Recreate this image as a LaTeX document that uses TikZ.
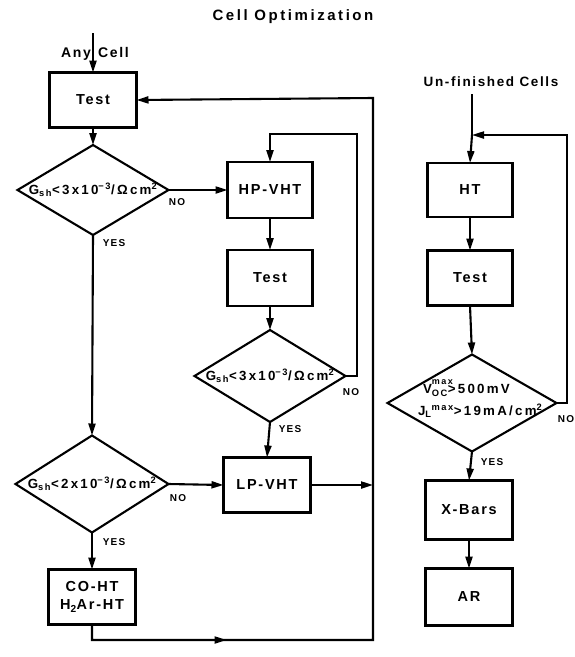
\documentclass[tikz,border=0pt]{standalone}
\usepackage{fontspec}
\setmainfont{Liberation Sans}[LetterSpace=12]
\newfontfamily\widefont{Liberation Sans}[LetterSpace=17]
\usetikzlibrary{arrows.meta,shapes.geometric,decorations.markings}
\begin{document}
\begin{tikzpicture}[x=1pt,y=-1pt,
  every node/.style={inner sep=0pt, outer sep=0pt},
  lw/.style={line width=2.1pt},
  box/.style={draw, lw, rectangle, minimum width=87pt, minimum height=55pt, font=\fontsize{14.5}{16}\selectfont\bfseries, align=center},
  dia/.style={draw, lw, diamond},
  dtext/.style={font=\widefont\fontsize{13.3}{15}\selectfont\bfseries, align=center},
  lbl/.style={font=\fontsize{10}{12}\selectfont\bfseries},
  ttl/.style={font=\fontsize{14}{16}\selectfont\bfseries},
  tip/.style={-{Triangle[length=12pt,width=7pt]}},
  conn/.style={lw, tip},
  plain/.style={lw}
]
\useasboundingbox (0,0) rectangle (575,657);

% title
\node[ttl, font=\widefont\fontsize{15}{17}\selectfont\bfseries] (title) at (293,17) {Cell Optimization};

% left column
\node[ttl, anchor=base east] (any) at (91,57) {Any};
\node[ttl, anchor=base west] (cell) at (98,57) {Cell};
\coordinate (start) at (93,33);

\node[box] (test1) at (93,100) {Test};
\node[dia, minimum width=151pt, minimum height=90pt] (d1) at (93,190) {};
\node[dtext] (d1t) at (d1.center) {G\textsubscript{sh}<3x10\textsuperscript{−3}/Ωcm\textsuperscript{2}};

\node[box, minimum width=85pt, minimum height=56pt] (hp) at (270,190) {HP-VHT};
\node[box, minimum width=85pt, minimum height=56pt] (test2) at (270,278) {Test};
\node[dia, minimum width=151pt, minimum height=92pt] (d2) at (270,376) {};
\node[dtext] (d2t) at (d2.center) {G\textsubscript{sh}<3x10\textsuperscript{−3}/Ωcm\textsuperscript{2}};

\node[dia, minimum width=153pt, minimum height=97pt] (d3) at (92,484) {};
\node[dtext] (d3t) at (d3.center) {G\textsubscript{sh}<2x10\textsuperscript{−3}/Ωcm\textsuperscript{2}};

\node[box] (lp) at (267,485) {LP-VHT};
\node[box] (co) at (92,597) {CO-HT\\[2pt]H\textsubscript{2}Ar-HT};

% loop coordinates
\coordinate (l2a) at (357,376);
\coordinate (l2b) at (357,134);
\coordinate (l2c) at (270,134);
\coordinate (lpend) at (373,485);
\coordinate (b1) at (92,640);
\coordinate (b2) at (373,640);
\coordinate (b3) at (373,98);

% connectors left
\draw[conn] (start) -- (test1.north);
\draw[conn] (test1.south) -- (d1.north);
\draw[conn] (d1.east) -- (hp.west);
\draw[conn] (d1.south) -- (d3.north);
\draw[conn] (hp.south) -- (test2.north);
\draw[conn] (test2.south) -- (d2.north);
\draw[conn] (d2.east) -- (l2a) -- (l2b) -- (l2c) -- (hp.north);
\draw[conn] (d2.south) -- (lp.north);
\draw[conn] (d3.east) -- (lp.west);
\draw[conn] (d3.south) -- (co.north);
\draw[conn] (lp.east) -- (lpend);
\draw[conn, postaction={decorate, decoration={markings, mark=at position 150pt with {\arrow{Triangle[length=12pt,width=7pt]}}}}]
  (co.south) -- (b1) -- (b2) -- (b3) -- (test1.east);

% labels left
\node[lbl] (no1) at (177,202) {NO};
\node[lbl] (yes1) at (114,243) {YES};
\node[lbl] (no2) at (351,392) {NO};
\node[lbl] (yes2) at (290,429) {YES};
\node[lbl] (no3) at (178,498) {NO};
\node[lbl] (yes3) at (114,542) {YES};

% right column
\node[ttl, font=\fontsize{13.5}{15}\selectfont\bfseries] (unf) at (491,82) {Un-finished Cells};
\coordinate (rstart) at (472,94);
\coordinate (merge) at (472,135);
\node[box, minimum width=85pt, minimum height=54pt] (ht) at (470,190) {HT};
\node[box, minimum width=85pt, minimum height=55pt] (test3) at (470,278) {Test};
\node[dia, minimum width=169pt, minimum height=97pt] (d4) at (472,403) {};
\node[dtext, anchor=west] (d4a) at (423,388) {V\rlap{\raisebox{1.3ex}{\fontsize{9}{10}\selectfont\bfseries max}}\textsubscript{OC}>500mV};
\node[dtext, anchor=west] (d4b) at (418,411) {J\textsubscript{L}\textsuperscript{max}>19mA/cm\textsuperscript{2}};
\node[box, minimum height=59pt] (xb) at (469,510) {X-Bars};
\node[box, minimum height=57pt] (ar) at (469,597) {AR};

\coordinate (r4a) at (567,403);
\coordinate (r4b) at (567,135);

\draw[plain] (rstart) -- (merge);
\draw[conn] (merge) -- (ht.north);
\draw[conn] (d4.east) -- (r4a) -- (r4b) -- (merge);
\draw[conn] (ht.south) -- (test3.north);
\draw[conn] (test3.south) -- (d4.north);
\draw[conn] (d4.south) -- (xb.north);
\draw[conn] (xb.south) -- (ar.north);

\node[lbl] (no4) at (566,419) {NO};
\node[lbl] (yes4) at (492,462) {YES};
\end{tikzpicture}
\end{document}
